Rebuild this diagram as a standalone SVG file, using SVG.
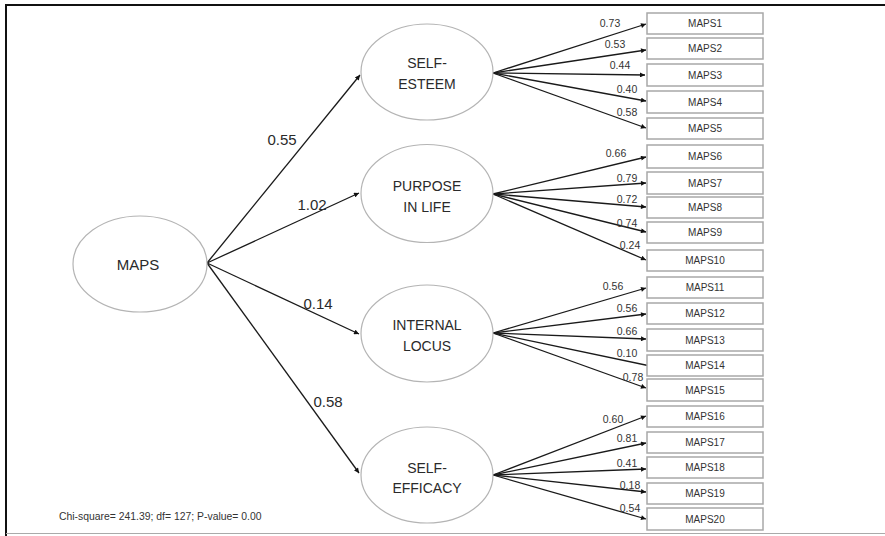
<svg xmlns="http://www.w3.org/2000/svg" width="885" height="536" viewBox="0 0 885 536">
<defs>
<marker id="ah" viewBox="0 0 10 10" refX="10" refY="5" markerWidth="6" markerHeight="5" markerUnits="userSpaceOnUse" orient="auto">
<path d="M0,0 L10,5 L0,10 z" fill="#111"/>
</marker>
<style>
.ell{fill:#fff;stroke:#b4b4b4;stroke-width:1.2}
.box{fill:#fff;stroke:#a8a8a8;stroke-width:1.5}
.ln{stroke:#1a1a1a;stroke-width:1.3;fill:none;marker-end:url(#ah)}
text{font-family:"Liberation Sans",Arial,sans-serif;fill:#2a2a2a}
.lt{font-size:14px;text-anchor:middle}
.bt{font-size:10px;text-anchor:middle;fill:#333}
.sl{font-size:15px;text-anchor:middle}
.ll{font-size:10.5px;text-anchor:middle;fill:#333}
</style>
</defs>
<rect x="0" y="0" width="885" height="536" fill="#fff"/>
<g id="frame">
<line x1="5" y1="5" x2="885" y2="5" stroke="#111" stroke-width="2"/>
<line x1="6" y1="4" x2="6" y2="536" stroke="#111" stroke-width="2"/>
<line x1="6" y1="533.5" x2="885" y2="533.5" stroke="#aaa" stroke-width="1.2"/>
</g>
<g id="connectors">
<line class="ln" x1="207" y1="263" x2="360" y2="75"/>
<line class="ln" x1="207" y1="263" x2="359" y2="193"/>
<line class="ln" x1="207" y1="263" x2="359" y2="334"/>
<line class="ln" x1="207" y1="263" x2="359" y2="473"/>
<line class="ln" x1="493" y1="73" x2="646" y2="24"/>
<line class="ln" x1="493" y1="73" x2="646" y2="50"/>
<line class="ln" x1="493" y1="73" x2="645" y2="75"/>
<line class="ln" x1="493" y1="73" x2="646" y2="101"/>
<line class="ln" x1="493" y1="73" x2="646" y2="128"/>
<line class="ln" x1="493" y1="194" x2="646" y2="157"/>
<line class="ln" x1="493" y1="194" x2="646" y2="183"/>
<line class="ln" x1="493" y1="194" x2="646" y2="207"/>
<line class="ln" x1="493" y1="194" x2="646" y2="232"/>
<line class="ln" x1="493" y1="194" x2="646" y2="260"/>
<line class="ln" x1="493" y1="333" x2="646" y2="288"/>
<line class="ln" x1="493" y1="333" x2="646" y2="314"/>
<line class="ln" x1="493" y1="333" x2="646" y2="339"/>
<line class="ln" x1="493" y1="333" x2="655" y2="367"/>
<line class="ln" x1="493" y1="333" x2="646" y2="388"/>
<line class="ln" x1="493" y1="475" x2="646" y2="416"/>
<line class="ln" x1="493" y1="475" x2="646" y2="443"/>
<line class="ln" x1="493" y1="475" x2="646" y2="469"/>
<line class="ln" x1="493" y1="475" x2="646" y2="492"/>
<line class="ln" x1="493" y1="475" x2="646" y2="519"/>
<text class="sl" x="282" y="145">0.55</text>
<text class="sl" x="312" y="210">1.02</text>
<text class="sl" x="318" y="309">0.14</text>
<text class="sl" x="328" y="407">0.58</text>
<text class="ll" x="610" y="27">0.73</text>
<text class="ll" x="615" y="48">0.53</text>
<text class="ll" x="620" y="69">0.44</text>
<text class="ll" x="627" y="93">0.40</text>
<text class="ll" x="627" y="116">0.58</text>
<text class="ll" x="616" y="157">0.66</text>
<text class="ll" x="627" y="182">0.79</text>
<text class="ll" x="627" y="203">0.72</text>
<text class="ll" x="627" y="227">0.74</text>
<text class="ll" x="630" y="249">0.24</text>
<text class="ll" x="613" y="290">0.56</text>
<text class="ll" x="627" y="312">0.56</text>
<text class="ll" x="627" y="335">0.66</text>
<text class="ll" x="627" y="357">0.10</text>
<text class="ll" x="633" y="381">0.78</text>
<text class="ll" x="613" y="423">0.60</text>
<text class="ll" x="627" y="442">0.81</text>
<text class="ll" x="627" y="467">0.41</text>
<text class="ll" x="630" y="489">0.18</text>
<text class="ll" x="630" y="512">0.54</text>
</g>
<g id="maps"><ellipse class="ell" cx="140" cy="264" rx="67" ry="48"/><text class="sl" x="138" y="270">MAPS</text></g>
<g id="self-esteem"><ellipse class="ell" cx="427" cy="72" rx="66" ry="48"/><text class="lt" x="427" y="68">SELF-</text><text class="lt" x="427" y="89">ESTEEM</text></g>
<g id="purpose-in-life"><ellipse class="ell" cx="427" cy="193.5" rx="66" ry="49"/><text class="lt" x="427" y="191">PURPOSE</text><text class="lt" x="427" y="212">IN LIFE</text></g>
<g id="internal-locus"><ellipse class="ell" cx="427" cy="333.5" rx="66" ry="48.5"/><text class="lt" x="427" y="330">INTERNAL</text><text class="lt" x="427" y="351">LOCUS</text></g>
<g id="self-efficacy"><ellipse class="ell" cx="427" cy="475" rx="66" ry="48"/><text class="lt" x="427" y="473">SELF-</text><text class="lt" x="427" y="493">EFFICACY</text></g>
<g id="maps1"><rect class="box" x="647" y="13" width="116" height="21"/><text class="bt" x="705" y="27">MAPS1</text></g>
<g id="maps2"><rect class="box" x="647" y="38" width="116" height="21"/><text class="bt" x="705" y="52">MAPS2</text></g>
<g id="maps3"><rect class="box" x="647" y="64" width="116" height="22"/><text class="bt" x="705" y="79">MAPS3</text></g>
<g id="maps4"><rect class="box" x="647" y="91" width="116" height="22"/><text class="bt" x="705" y="106">MAPS4</text></g>
<g id="maps5"><rect class="box" x="647" y="118" width="116" height="21"/><text class="bt" x="705" y="132">MAPS5</text></g>
<g id="maps6"><rect class="box" x="647" y="145" width="116" height="23"/><text class="bt" x="705" y="160">MAPS6</text></g>
<g id="maps7"><rect class="box" x="647" y="172" width="116" height="22"/><text class="bt" x="705" y="187">MAPS7</text></g>
<g id="maps8"><rect class="box" x="647" y="197" width="116" height="21"/><text class="bt" x="705" y="211">MAPS8</text></g>
<g id="maps9"><rect class="box" x="647" y="222" width="116" height="21"/><text class="bt" x="705" y="236">MAPS9</text></g>
<g id="maps10"><rect class="box" x="647" y="250" width="116" height="21"/><text class="bt" x="705" y="264">MAPS10</text></g>
<g id="maps11"><rect class="box" x="647" y="277" width="116" height="21"/><text class="bt" x="705" y="291">MAPS11</text></g>
<g id="maps12"><rect class="box" x="647" y="303" width="116" height="21"/><text class="bt" x="705" y="317">MAPS12</text></g>
<g id="maps13"><rect class="box" x="647" y="329" width="116" height="22"/><text class="bt" x="705" y="344">MAPS13</text></g>
<g id="maps14"><rect class="box" x="647" y="355" width="116" height="21"/><text class="bt" x="705" y="369">MAPS14</text></g>
<g id="maps15"><rect class="box" x="647" y="379" width="116" height="22"/><text class="bt" x="705" y="394">MAPS15</text></g>
<g id="maps16"><rect class="box" x="647" y="406" width="116" height="21"/><text class="bt" x="705" y="420">MAPS16</text></g>
<g id="maps17"><rect class="box" x="647" y="432" width="116" height="21"/><text class="bt" x="705" y="446">MAPS17</text></g>
<g id="maps18"><rect class="box" x="647" y="457" width="116" height="21"/><text class="bt" x="705" y="471">MAPS18</text></g>
<g id="maps19"><rect class="box" x="647" y="483" width="116" height="21"/><text class="bt" x="705" y="497">MAPS19</text></g>
<g id="maps20"><rect class="box" x="647" y="508" width="116" height="22"/><text class="bt" x="705" y="523">MAPS20</text></g>
<text x="59" y="520" style="font-size:10.4px;fill:#333">Chi-square= 241.39; df= 127; P-value= 0.00</text>
</svg>
